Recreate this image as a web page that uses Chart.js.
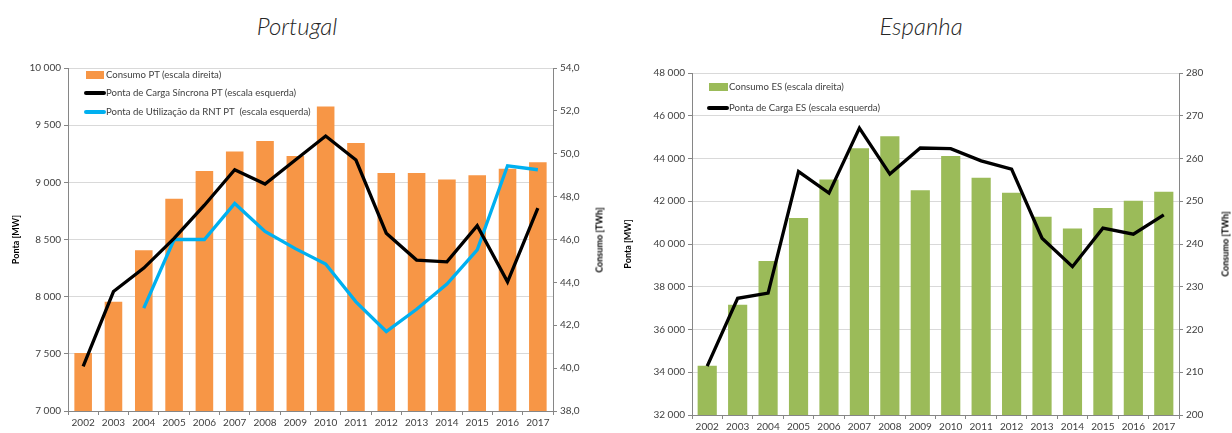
<!DOCTYPE html>
<html>
<head>
<meta charset="utf-8">
<script src="https://cdn.jsdelivr.net/npm/chart.js@4.4.1/dist/chart.umd.min.js"></script>
<style>
  body{margin:0;background:#fff;width:1232px;height:433px;position:relative;overflow:hidden;font-family:Lato, "Open Sans", sans-serif;color:#404040}
  canvas{position:absolute;top:0}
  .title{position:absolute;top:11px;font-size:24px;font-style:italic;font-weight:300;color:#262626;transform:translateX(-50%)}
  .leg{position:absolute;font-size:9.6px;color:#404040;white-space:nowrap;line-height:12px}
  .leg i{position:absolute;display:block}
  .ytitle{position:absolute;font-size:9px;font-weight:bold;color:#000;white-space:nowrap;transform:translate(-50%,-50%) rotate(-90deg)}
</style>
</head>
<body>
<div class="title" style="left:297px">Portugal</div>
<div class="title" style="left:921px">Espanha</div>

<canvas id="ptChart" width="612" height="433" style="left:0"></canvas>
<canvas id="esChart" width="616" height="433" style="left:616px"></canvas>

<!-- right axis titles (read bottom to top) -->
<div class="ytitle" style="left:599px;top:240px">Consumo [TWh]</div>
<div class="ytitle" style="left:1225px;top:244px">Consumo [TWh]</div>

<!-- legends -->
<div class="leg" style="left:106px;top:69px">Consumo PT (escala direita)<i style="left:-20px;top:2px;width:18px;height:8px;background:#f79646"></i></div>
<div class="leg" style="left:106px;top:87px">Ponta de Carga Síncrona PT (escala esquerda)<i style="left:-22px;top:4px;width:22px;height:4px;border-radius:2px;background:#000"></i></div>
<div class="leg" style="left:106px;top:106px">Ponta de Utilização da RNT PT &nbsp;(escala esquerda)<i style="left:-22px;top:4px;width:22px;height:4px;border-radius:2px;background:#00b0f0"></i></div>

<div class="leg" style="left:729px;top:81px">Consumo ES (escala direita)<i style="left:-20px;top:2px;width:19px;height:8px;background:#9bbb59"></i></div>
<div class="leg" style="left:729px;top:102px">Ponta de Carga ES (escala esquerda)<i style="left:-22px;top:4px;width:22px;height:4px;border-radius:2px;background:#000"></i></div>

<script>
// --------- DATA ----------
const years = ['2002','2003','2004','2005','2006','2007','2008','2009','2010','2011','2012','2013','2014','2015','2016','2017'];

// Portugal
const ptConsumo = [40.7,43.1,45.5,47.9,49.2,50.1,50.6,49.9,52.2,50.5,49.1,49.1,48.8,49.0,49.3,49.6]; // TWh
const ptPontaSincrona = [7390,8045,8250,8510,8800,9110,8985,9195,9405,9195,8555,8320,8305,8620,8130,8775]; // MW
const ptPontaRNT = [null,null,7900,8500,8500,8815,8570,8420,8285,7955,7695,7890,8110,8410,9145,9110]; // MW

// Espanha
const esConsumo = [211.5,225.8,236.0,246.1,255.1,262.4,265.2,252.6,260.6,255.5,252.0,246.4,243.6,248.4,250.1,252.2]; // TWh
const esPonta = [34290,37460,37700,43390,42380,45420,43270,44490,44460,43890,43500,40270,38940,40740,40460,41360]; // MW

// --------- HELPERS ----------
const FONT = 'Lato, "Open Sans", sans-serif';
const TXT = '#404040';
const GRID = '#d9d9d9';
const AXIS = '#868686';

const fmtMW = v => String(v).replace(/\B(?=(\d{3})+(?!\d))/g, ' ');
const fmtTWh = v => v.toFixed(1).replace('.', ',');
const fmtInt = v => String(v);

function fixW(w){ return s => { s.width = w; }; }
function fixH(h){ return s => { s.height = h; }; }

function buildChart(id, o){
  new Chart(document.getElementById(id), {
    type:'bar',
    data:{labels:years, datasets:o.datasets},
    options:{
      responsive:false,
      maintainAspectRatio:false,
      animation:false,
      layout:{padding:{top:o.top, left:0, right:0, bottom:0}},
      plugins:{legend:{display:false}, tooltip:{enabled:false}},
      scales:{
        x:{
          afterFit:fixH(o.xH),
          ticks:{color:TXT, font:{family:FONT, size:10}, padding:2, maxRotation:0, autoSkip:false},
          grid:{drawOnChartArea:false, drawTicks:true, tickLength:4, color:AXIS, offset:true},
          border:{color:AXIS}
        },
        y:{
          position:'left',
          min:o.yMin, max:o.yMax,
          afterFit:fixW(o.yW),
          ticks:{stepSize:o.yStep, color:TXT, font:{family:FONT, size:10}, padding:3, callback:fmtMW},
          grid:{color:GRID, tickColor:AXIS, tickLength:4},
          border:{color:AXIS},
          title:{display:true, text:'Ponta [MW]', color:'#000', font:{family:FONT, size:9, weight:'bold'}, padding:{top:o.yTitlePad, bottom:0}}
        },
        y1:{
          position:'right',
          min:o.y1Min, max:o.y1Max,
          afterFit:fixW(o.y1W),
          ticks:{stepSize:o.y1Step, color:TXT, font:{family:FONT, size:10}, padding:3, callback:o.y1Fmt},
          grid:{drawOnChartArea:false, tickColor:AXIS, tickLength:4},
          border:{color:AXIS}
        }
      }
    }
  });
}

const line = (data, color) => ({type:'line', data, yAxisID:'y', borderColor:color, borderWidth:3.3, pointRadius:0, tension:0, fill:false, order:0, spanGaps:false, borderJoinStyle:'miter'});

// --------- CHARTS ----------
buildChart('ptChart', {
  top:68, xH:22, yW:68, y1W:59,
  yMin:7000, yMax:10000, yStep:500, yTitlePad:11,
  y1Min:38, y1Max:54, y1Step:2, y1Fmt:fmtTWh,
  datasets:[
    line(ptPontaSincrona, '#000000'),
    line(ptPontaRNT, '#00b0f0'),
    {label:'Consumo PT (escala direita)', data:ptConsumo, yAxisID:'y1', backgroundColor:'#f79646', barPercentage:0.58, categoryPercentage:1, order:1}
  ]
});

buildChart('esChart', {
  top:73, xH:18, yW:76, y1W:53,
  yMin:32000, yMax:48000, yStep:2000, yTitlePad:7,
  y1Min:200, y1Max:280, y1Step:10, y1Fmt:fmtInt,
  datasets:[
    line(esPonta, '#000000'),
    {label:'Consumo ES (escala direita)', data:esConsumo, yAxisID:'y1', backgroundColor:'#9bbb59', barPercentage:0.63, categoryPercentage:1, order:1}
  ]
});
</script>
</body>
</html>
